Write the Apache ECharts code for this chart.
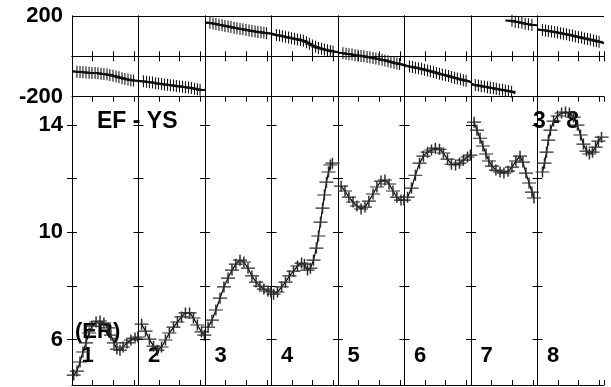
<!DOCTYPE html>
<html><head><meta charset="utf-8">
<script src="https://cdn.jsdelivr.net/npm/echarts@6/dist/echarts.min.js"></script>
<style>html,body{margin:0;padding:0;background:#fff}#c{width:611px;height:387px}</style>
</head><body><div id="c"></div>
<script>
// ---------- data ----------
const sectionLabels = ['1','2','3','4','5','6','7','8'];
const bottomTickValues = [6, 8, 10, 12, 14];
const bottomLabelValues = [6, 10, 14];
const topTickValues = [-200, 0, 200];

// bottom panel (EF - YS), per section [x, value]
const bot1 = [[0.08,4.67],[0.24,4.82],[0.39,5.16],[0.53,5.53],[0.68,5.87],[0.83,6.24],[0.97,6.50],[1.17,6.65],[1.36,6.69],[1.55,6.61],[1.75,6.43],[1.89,6.16],[2.04,5.87],[2.18,5.64],[2.33,5.60],[2.48,5.72],[2.67,5.87],[2.86,5.98],[3.06,6.05],[3.20,6.09]];
const bot2 = [[0.15,6.57],[0.34,6.31],[0.53,6.01],[0.73,5.75],[0.92,5.60],[1.12,5.72],[1.31,5.98],[1.50,6.24],[1.70,6.46],[1.89,6.65],[2.09,6.84],[2.28,6.99],[2.48,6.99],[2.67,6.80],[2.86,6.54],[3.06,6.28],[3.20,6.16]];
const bot3 = [[0.15,6.46],[0.34,6.72],[0.53,7.10],[0.73,7.54],[0.92,7.96],[1.12,8.29],[1.31,8.59],[1.50,8.81],[1.70,8.96],[1.89,8.89],[2.09,8.66],[2.28,8.37],[2.48,8.14],[2.67,7.99],[2.86,7.88],[3.06,7.81],[3.20,7.77]];
const bot4 = [[0.10,7.69],[0.29,7.77],[0.49,7.96],[0.68,8.14],[0.87,8.37],[1.07,8.55],[1.26,8.74],[1.46,8.85],[1.60,8.81],[1.75,8.59],[1.89,8.66],[2.04,8.96],[2.18,9.41],[2.28,9.86],[2.38,10.38],[2.48,10.90],[2.57,11.39],[2.67,11.87],[2.77,12.25],[2.86,12.51],[2.96,12.58]];
const bot5 = [[0.15,11.72],[0.34,11.54],[0.53,11.31],[0.73,11.13],[0.92,10.98],[1.12,10.87],[1.31,10.94],[1.50,11.16],[1.70,11.43],[1.89,11.69],[2.09,11.91],[2.28,11.95],[2.48,11.80],[2.67,11.54],[2.86,11.31],[3.06,11.20],[3.20,11.20]];
const bot6 = [[0.15,11.31],[0.34,11.65],[0.53,12.13],[0.73,12.58],[0.92,12.84],[1.12,12.99],[1.31,13.07],[1.50,13.14],[1.70,13.10],[1.89,12.96],[2.09,12.73],[2.28,12.54],[2.48,12.51],[2.67,12.58],[2.86,12.69],[3.06,12.81],[3.20,12.88]];
const bot7 = [[0.15,14.11],[0.29,13.81],[0.44,13.51],[0.58,13.22],[0.73,12.92],[0.87,12.66],[1.02,12.47],[1.21,12.32],[1.41,12.25],[1.60,12.21],[1.80,12.28],[1.99,12.43],[2.18,12.66],[2.38,12.84],[2.52,12.62],[2.67,12.21],[2.82,11.84],[2.96,11.50],[3.06,11.28]];
const bot8 = [[0.24,12.25],[0.34,12.58],[0.44,12.99],[0.53,13.44],[0.63,13.81],[0.78,14.15],[0.97,14.34],[1.17,14.45],[1.36,14.49],[1.55,14.45],[1.75,14.30],[1.94,14.00],[2.09,13.63],[2.23,13.29],[2.38,13.03],[2.52,12.92],[2.67,12.99],[2.82,13.18],[2.96,13.40],[3.11,13.55]];

// top panel, shared x positions and per-section values
const topX = [0.24,0.39,0.53,0.68,0.83,0.97,1.12,1.26,1.41,1.55,1.70,1.84,1.99,2.14,2.28,2.43,2.57,2.72,2.86,2.99];
const top1 = [-76,-78,-79,-80,-81,-82,-83,-84,-86,-88,-90,-93,-96,-100,-104,-108,-112,-115,-118,-120];
const top2 = [-124,-126,-128,-130,-133,-135,-137,-139,-141,-143,-145,-147,-149,-151,-153,-155,-157,-160,-163,-166];
const top3 = [166,163,160,157,154,151,148,145,142,139,136,134,131,128,126,123,121,119,117,115];
const top4 = [106,103,100,97,93,90,87,84,81,77,70,62,54,47,42,38,34,30,27,24];
const top5 = [15,13,11,9,6,4,2,0,-3,-5,-8,-11,-14,-17,-20,-24,-28,-32,-35,-38];
const top6 = [-50,-53,-56,-59,-62,-66,-70,-74,-78,-82,-86,-90,-94,-98,-102,-106,-110,-114,-118,-121];
const top8 = [130,128,126,123,121,118,115,112,109,106,103,99,96,93,89,86,83,79,76,72];
const top7aX = [0.21,0.36,0.50,0.65,0.80,0.94,1.09,1.23,1.38,1.53,1.67,1.82,1.97];
const top7a = [-142,-145,-148,-150,-153,-156,-158,-161,-164,-166,-169,-172,-175];
const top7bX = [1.99,2.15,2.31,2.47,2.63,2.79,2.96];
const top7b = [176,172,169,166,162,159,156];
// line ends at section borders [xStart, yStart, xEnd, yEnd]
const topEnds1 = [0,-73,3.23,-122];
const topEnds2 = [0,-122,3.23,-167];
const topEnds3 = [0,168,3.23,112];
const topEnds4 = [0,113,3.23,20];
const topEnds5 = [0,18,3.23,-45];
const topEnds6 = [0,-43,3.23,-128];
const topEnds7a = [0,-135,2.15,-183];
const topEnds7b = [1.67,178,3.23,154];
const topEnds8 = [0,134,3.23,65];

// ---------- layout ----------
const FONT = '"Liberation Sans", Arial, Helvetica, sans-serif';
const L0 = 72, SW = 66.5, TOP_T = 16, TOP_H = 80.7, BOT_T = 96.7, BOT_H = 288.3, XMAX = 3.23;
const BOT_MIN = 4.3, BOT_MAX = 15.06;
const plus = 'path://M0,5L10,5M5,0L5,10';
const AX = {color:'#000', width:1};

const grids = [], xAxes = [], yAxes = [], series = [];

function xPair(gi){
  const base = {type:'value', gridIndex:gi, min:0, max:XMAX, interval:1,
    axisLine:{show:true, lineStyle:AX}, axisTick:{show:true, inside:true, length:5, lineStyle:AX},
    axisLabel:{show:false}, splitLine:{show:false}};
  xAxes.push(Object.assign({position:'bottom'}, base));
  const b = xAxes.length-1;
  xAxes.push(Object.assign({position:'top'}, base));
  return b;
}

function mkTopSeries(xi, yi, xs, ys, ends){
  const d = [{value:[ends[0], ends[1]], symbol:'none'}];
  xs.forEach((x,i)=>d.push([x, ys[i]]));
  d.push({value:[ends[2], ends[3]], symbol:'none'});
  series.push({type:'line', xAxisIndex:xi, yAxisIndex:yi, data:d, symbol:plus, symbolSize:[8,12],
    showAllSymbol:true, animation:false, silent:true,
    itemStyle:{color:'none', borderColor:'#111', borderWidth:1.3},
    lineStyle:{color:'#000', width:2}});
}
function mkBotSeries(xi, yi, pts){
  series.push({type:'line', xAxisIndex:xi, yAxisIndex:yi, data:pts, symbol:plus, symbolSize:[14,11],
    showAllSymbol:true, animation:false, silent:true,
    itemStyle:{color:'none', borderColor:'#2a2a2a', borderWidth:1.3},
    lineStyle:{color:'#000', width:1.2}});
}

const tops = [[topX,top1,topEnds1],[topX,top2,topEnds2],[topX,top3,topEnds3],[topX,top4,topEnds4],
              [topX,top5,topEnds5],[topX,top6,topEnds6],null,[topX,top8,topEnds8]];
const bots = [bot1,bot2,bot3,bot4,bot5,bot6,bot7,bot8];

for (let k=0;k<8;k++){
  const left = L0 + k*SW;
  // top grid
  grids.push({left:left, top:TOP_T, width:SW, height:TOP_H});
  let gi = grids.length-1;
  let xi = xPair(gi);
  yAxes.push({type:'value', gridIndex:gi, position:'left', min:-200, max:200, interval:200,
    axisLine:{show:true, lineStyle:AX}, axisTick:{show:false},
    axisLabel:{show:k===0, fontSize:22, fontWeight:'bold', fontFamily:FONT, color:'#000', margin:9,
      formatter:v=> (v===0 ? '' : String(v))},
    splitLine:{show:true, lineStyle:AX}});
  let yi = yAxes.length-1;
  yAxes.push({type:'value', gridIndex:gi, position:'right', min:-200, max:200, interval:200,
    axisLine:{show:true, lineStyle:AX}, axisTick:{show:false}, axisLabel:{show:false}, splitLine:{show:false}});
  if (k===6){
    mkTopSeries(xi, yi, top7aX, top7a, topEnds7a);
    mkTopSeries(xi, yi, top7bX, top7b, topEnds7b);
  } else {
    mkTopSeries(xi, yi, tops[k][0], tops[k][1], tops[k][2]);
  }
  // bottom grid
  grids.push({left:left, top:BOT_T, width:SW, height:BOT_H});
  gi = grids.length-1;
  xi = xPair(gi);
  yAxes.push({type:'value', gridIndex:gi, position:'left', min:BOT_MIN, max:BOT_MAX,
    axisLine:{show:true, lineStyle:AX},
    axisTick:{show:true, inside:true, length:5, lineStyle:AX, customValues:bottomTickValues},
    axisLabel:{show:k===0, customValues:bottomLabelValues, fontSize:22, fontWeight:'bold', fontFamily:FONT, color:'#000', margin:9},
    splitLine:{show:false}});
  yi = yAxes.length-1;
  yAxes.push({type:'value', gridIndex:gi, position:'right', min:BOT_MIN, max:BOT_MAX,
    axisLine:{show:true, lineStyle:AX},
    axisTick:{show:true, inside:true, length:5, lineStyle:AX, customValues:bottomTickValues},
    axisLabel:{show:false}, splitLine:{show:false}});
  mkBotSeries(xi, yi, bots[k]);
}

const txt = (t, x, y, fs) => ({type:'text', x:x, y:y, z:1,
  style:{text:t, font:'bold ' + (fs||22) + 'px ' + FONT, fill:'#000', verticalAlign:'middle', textVerticalAlign:'middle'}});
const graphics = [txt('EF - YS', 97, 122, 23), txt('3 - 8', 533, 122, 23), txt('(ER)', 75, 332)];
sectionLabels.forEach((s,k)=>graphics.push(txt(s, L0 + k*SW + 9.5, 356)));

const chart = echarts.init(document.getElementById('c'));
chart.setOption({backgroundColor:'#fff', animation:false, grid:grids, xAxis:xAxes, yAxis:yAxes, series:series, graphic:graphics});
</script></body></html>
